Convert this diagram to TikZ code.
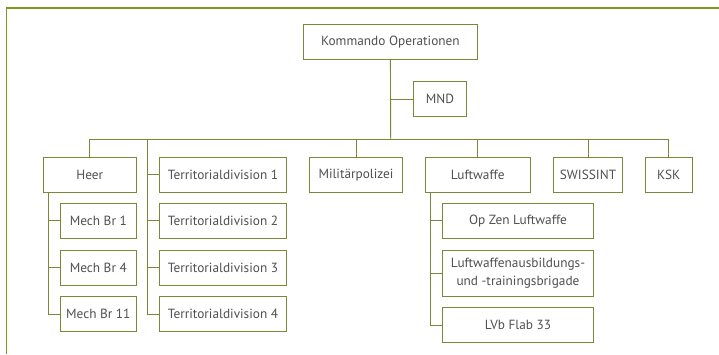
\documentclass[tikz,border=0pt]{standalone}
\usepackage{fontspec}
\setmainfont{PT Sans}
\usetikzlibrary{positioning}

\definecolor{orgline}{HTML}{7A8838}
\definecolor{orgframe}{HTML}{7D9A1E}
\definecolor{orgtext}{HTML}{505050}

\tikzset{
  unit/.style={draw=orgline, line width=0.9pt, fill=white, text=orgtext,
    minimum height=35pt, inner sep=0pt, align=center,
    font=\fontsize{13.3}{18}\selectfont},
  link/.style={draw=orgline, line width=0.9pt},
}

\begin{document}
\begin{tikzpicture}[x=1pt, y=-1pt]
    \useasboundingbox (0,0) rectangle (719,354);
    \draw[orgframe, line width=1.4pt] (6.5,354) -- (6.5,8) -- (719,8);

    \node[unit, minimum width=174.7pt] (kdo) at (390.4,41.7) {Kommando Operationen};
    \node[unit, minimum width=52.3pt] (mnd) at (439.9,99.2) {MND};

    \node[unit, minimum width=93pt] (heer) at (89.8,174.8) {Heer};
    \node[unit, minimum width=127.4pt] (td1) at (223,174.8) {Territorialdivision 1};
    \node[unit, minimum width=127.4pt] (td2) at (223,220.8) {Territorialdivision 2};
    \node[unit, minimum width=127.4pt] (td3) at (223,267.5) {Territorialdivision 3};
    \node[unit, minimum width=127.4pt] (td4) at (223,314) {Territorialdivision 4};
    \node[unit, minimum width=93.4pt] (mp) at (356,174.8) {Militärpolizei};
    \node[unit, minimum width=104.7pt] (lw) at (477.7,174.8) {Luftwaffe};
    \node[unit, minimum width=69.4pt] (swiss) at (588,174.8) {SWISSINT};
    \node[unit, minimum width=46.7pt] (ksk) at (668.7,174.8) {KSK};

    \node[unit, minimum width=76pt] (mech1) at (98.3,220.8) {Mech Br 1};
    \node[unit, minimum width=76pt] (mech4) at (98.3,267.5) {Mech Br 4};
    \node[unit, minimum width=76pt] (mech11) at (98.3,314) {Mech Br 11};

    \node[unit, minimum width=150.6pt] (opzen) at (518,220.8) {Op Zen Luftwaffe};
    \node[unit, minimum width=150.6pt, minimum height=46.3pt] (lwab) at (518,273.2)
      {Luftwaffenausbildungs-\\und -trainingsbrigade};
    \node[unit, minimum width=150.6pt] (lvb) at (518,325.2) {LVb Flab 33};

    \coordinate (bus) at (390.7,139.3);
    \coordinate (tdbus) at (147.3,139.3);
    \coordinate (heerleg) at ([xshift=6pt]heer.south west);
    \coordinate (lwleg) at ([xshift=6pt]lw.south west);

    % command line
    \draw[link] (kdo.south) -- (bus);
    \draw[link] (mnd.west) -- (mnd.west -| kdo.south);
    \draw[link] (heer.north) |- (ksk.north |- bus) -- (ksk.north);
    \draw[link] (mp.north) -- (mp.north |- bus);
    \draw[link] (lw.north) -- (lw.north |- bus);
    \draw[link] (swiss.north) -- (swiss.north |- bus);

    % divisions
    \draw[link] (tdbus) |- (td4.west);
    \foreach \n in {td1,td2,td3}
      \draw[link] (\n.west -| tdbus) -- (\n.west);

    % brigades
    \draw[link] (heerleg) |- (mech11.west);
    \foreach \n in {mech1,mech4}
      \draw[link] (\n.west -| heerleg) -- (\n.west);

    \draw[link] (lwleg) |- (lvb.west);
    \foreach \n in {opzen,lwab}
      \draw[link] (\n.west -| lwleg) -- (\n.west);
\end{tikzpicture}
\end{document}
